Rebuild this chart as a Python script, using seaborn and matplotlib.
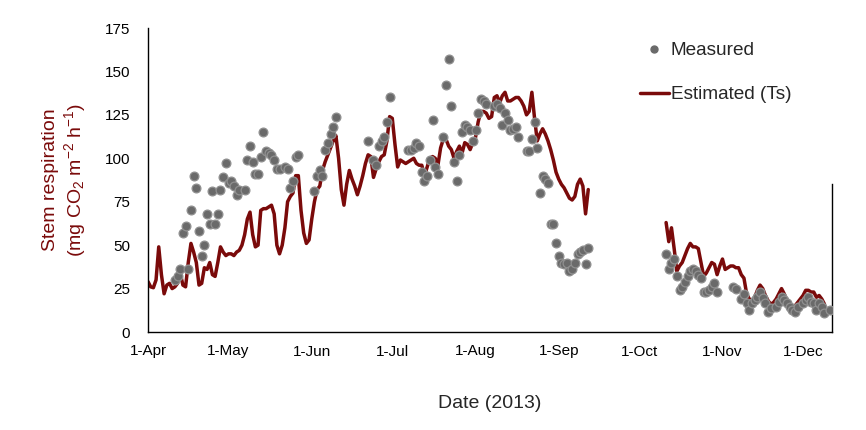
import numpy as np
import pandas as pd
import matplotlib
matplotlib.use("Agg")
import matplotlib.pyplot as plt
import matplotlib.dates as mdates
from matplotlib.lines import Line2D
import seaborn as sns

# ---------------- data ----------------
start_date = "2013-04-01"

# Estimated (Ts), daily, first segment starts on day offset 0 (1-Apr)
est_spring_start = 0
est_spring_vals = [
    29, 26, 25.5, 30, 49, 33, 22, 27, 28, 25,
    26, 28, 34, 27, 26, 40, 51, 46, 40, 27,
    28, 37, 36, 40, 33, 32, 40, 49, 46, 44,
    45, 45, 44, 46, 47, 50, 56, 65, 69, 56,
    49, 50, 70, 71, 71, 72, 73, 68, 50, 45,
    50, 60, 75, 78, 80, 90, 90, 70, 57, 51,
    53, 65, 75, 82, 84, 93, 98, 102, 106, 110,
    113, 100, 82, 73, 85, 93, 88, 84, 79, 84,
    90, 97, 102, 101, 89, 94, 98, 101, 102, 110,
    124, 123, 108, 95, 99, 98, 97, 98, 99, 100,
    97, 96, 96, 90, 95, 100, 101, 100, 96, 106,
    111, 111, 107, 105, 100, 104, 107, 103, 109, 108,
    105, 109, 112, 121, 127, 127, 126, 123, 124, 135,
    136, 132, 136, 138, 133, 133, 134, 135, 135, 133,
    130, 125, 127, 138, 123, 110, 114, 117, 114, 110,
    105, 99, 92, 88, 85, 83, 80, 77, 76, 78,
    85, 88, 84, 68, 82,
]
# second segment starts on day offset 193 (11-Oct)
est_autumn_start = 193
est_autumn_vals = [
    63, 52, 60, 48, 35, 38, 40, 44, 48, 51,
    49, 49, 48, 40, 32, 34, 37, 40, 39, 33,
    38, 42, 36, 37, 38, 38, 37, 37, 33, 31,
    22, 19, 18, 20, 24, 27, 25, 21, 18, 16,
    17, 19, 22, 25, 22, 18, 16, 14, 15, 17,
    19, 21, 24, 24, 23, 23, 20, 21, 19, 16,
]

# Measured, day offsets from 1-Apr
meas_days = [
    10, 11, 12, 13, 14, 15, 16, 17, 18, 19, 20, 21, 22, 23, 24, 25, 26, 27, 28, 29,
    30, 31, 32, 33, 34, 36, 37, 38, 39, 40, 41, 42, 43, 44, 45, 46, 47, 48, 49, 51,
    52, 53, 54, 55, 56, 62, 63, 64, 65, 66, 67, 68, 69, 70, 82, 84, 85, 86, 87, 88,
    89, 90, 97, 98, 99, 100, 101, 102, 103, 104, 105, 106, 107, 108, 110, 111, 112, 113, 114, 115,
    116, 117, 118, 119, 120, 121, 122, 123, 124, 125, 126, 129, 130, 131, 132, 133, 134, 135, 136, 137,
    138, 141, 142, 143, 144, 145, 146, 147, 148, 149, 150, 151, 152, 153, 154, 155, 156, 157, 158, 159,
    160, 161, 162, 163, 164,
    193, 194, 195, 196, 197, 198, 199, 200, 201, 202, 203, 204, 205, 206, 207, 208, 209, 210, 211, 212,
    218, 219, 221, 222, 223, 224, 225, 226, 227, 228, 229, 230, 231, 232, 234, 235, 236, 237, 238, 239,
    240, 241, 242, 244, 245, 246, 247, 248, 249, 250, 251, 252, 254,
]
meas_vals = [
    30, 32, 36, 57, 61, 36, 70, 90, 83, 58, 44, 50, 68, 62, 81, 62, 68, 82, 89, 97,
    86, 87, 84, 79, 82, 82, 99, 107, 98, 91, 91, 101, 115, 104, 103, 102, 99, 94, 94, 95,
    94, 83, 87, 101, 102, 81, 90, 93, 90, 105, 109, 114, 118, 124, 110, 99, 96, 107, 110, 112,
    121, 135, 105, 105, 106, 109, 107, 92, 87, 90, 99, 122, 95, 91, 112, 142, 157, 130, 98, 87,
    102, 115, 119, 118, 116, 110, 116, 126, 134, 133, 131, 130, 131, 129, 119, 126, 122, 116, 117, 118,
    112, 104, 104, 111, 121, 106, 80, 90, 88, 86, 62, 62, 51, 44, 40, 39, 40, 35, 36, 40,
    45, 46, 47, 39, 48.5,
    45, 36, 40, 42, 32, 24, 26, 29, 32, 35, 36, 35, 33, 31, 23, 23, 24, 26, 28, 23,
    26, 25, 19, 22, 16.5, 12.7, 16.5, 18.4, 20.3, 23.2, 19.4, 16.5, 11.7, 13.6, 14.6, 17.4, 20.3, 18.4, 16.5, 14.6,
    12.7, 11.7, 14.6, 16.5, 18.4, 20.3, 17.4, 16.5, 12.7, 16.5, 14.6, 10.8, 12.7,
]

y_ticks = [0, 25, 50, 75, 100, 125, 150, 175]
series_labels = ["Measured", "Estimated (Ts)"]

# ---------------- frames ----------------
t0 = pd.Timestamp(start_date)
est_df = pd.concat([
    pd.DataFrame({
        "date": pd.date_range(t0 + pd.Timedelta(days=est_spring_start), periods=len(est_spring_vals), freq="D"),
        "value": est_spring_vals, "segment": 0}),
    pd.DataFrame({
        "date": pd.date_range(t0 + pd.Timedelta(days=est_autumn_start), periods=len(est_autumn_vals), freq="D"),
        "value": est_autumn_vals, "segment": 1}),
], ignore_index=True)
meas_df = pd.DataFrame({"date": t0 + pd.to_timedelta(meas_days, unit="D"), "value": meas_vals})

# ---------------- style ----------------
sns.set_style("white")
plt.rcParams["font.family"] = ["Liberation Sans", "DejaVu Sans"]
plt.rcParams["mathtext.fontset"] = "custom"
plt.rcParams["mathtext.rm"] = "Liberation Sans"
plt.rcParams["mathtext.it"] = "Liberation Sans:italic"
plt.rcParams["mathtext.bf"] = "Liberation Sans:bold"

maroon = "#7a0a0a"
grey = "#6a6a6a"

fig = plt.figure(figsize=(8.66, 4.30), dpi=100)
ax = fig.add_axes([148 / 866, 1 - 332 / 430, (832 - 148) / 866, (332 - 28) / 430])

sns.lineplot(data=est_df, x="date", y="value", units="segment", estimator=None,
             color=maroon, linewidth=2.5, ax=ax, legend=False, zorder=2)
sns.scatterplot(data=meas_df, x="date", y="value", s=40, color=grey,
                edgecolor="#909090", linewidth=0.9, ax=ax, legend=False, zorder=3)

ax.set_xlim(t0, t0 + pd.Timedelta(days=254.8))
ax.set_ylim(0, 175)
ax.set_yticks(y_ticks)
ax.xaxis.set_major_locator(mdates.MonthLocator())
ax.xaxis.set_major_formatter(mdates.DateFormatter("%-d-%b"))

for side in ["left", "bottom", "right"]:
    ax.spines[side].set_visible(True)
    ax.spines[side].set_color("black")
    ax.spines[side].set_linewidth(1.0)
ax.spines["top"].set_visible(False)
ax.spines["right"].set_bounds(0, 85)

ax.tick_params(axis="both", direction="out", length=4, width=1, colors="black",
               labelsize=11)
ax.tick_params(axis="y", right=False, pad=9)
ax.tick_params(axis="x", pad=5)

ax.set_xlabel("Date (2013)", fontsize=14, labelpad=26)
ax.set_ylabel("Stem respiration\n(mg CO$_2$ m$^{-2}$ h$^{-1}$)", fontsize=14,
              color=maroon, labelpad=12, linespacing=1.15)

handles = [
    Line2D([], [], marker="o", ls="", color=grey, markersize=5),
    Line2D([], [], color=maroon, lw=2.5),
]
ax.legend(handles, series_labels, loc="upper left",
          bbox_to_anchor=(640 / 866, 1 - 42 / 430), bbox_transform=fig.transFigure,
          frameon=False, fontsize=13.7, handlelength=1.5, handletextpad=0.12,
          labelspacing=1.4, borderpad=0, borderaxespad=0)

fig.savefig("out.png", dpi=100, facecolor="white")
